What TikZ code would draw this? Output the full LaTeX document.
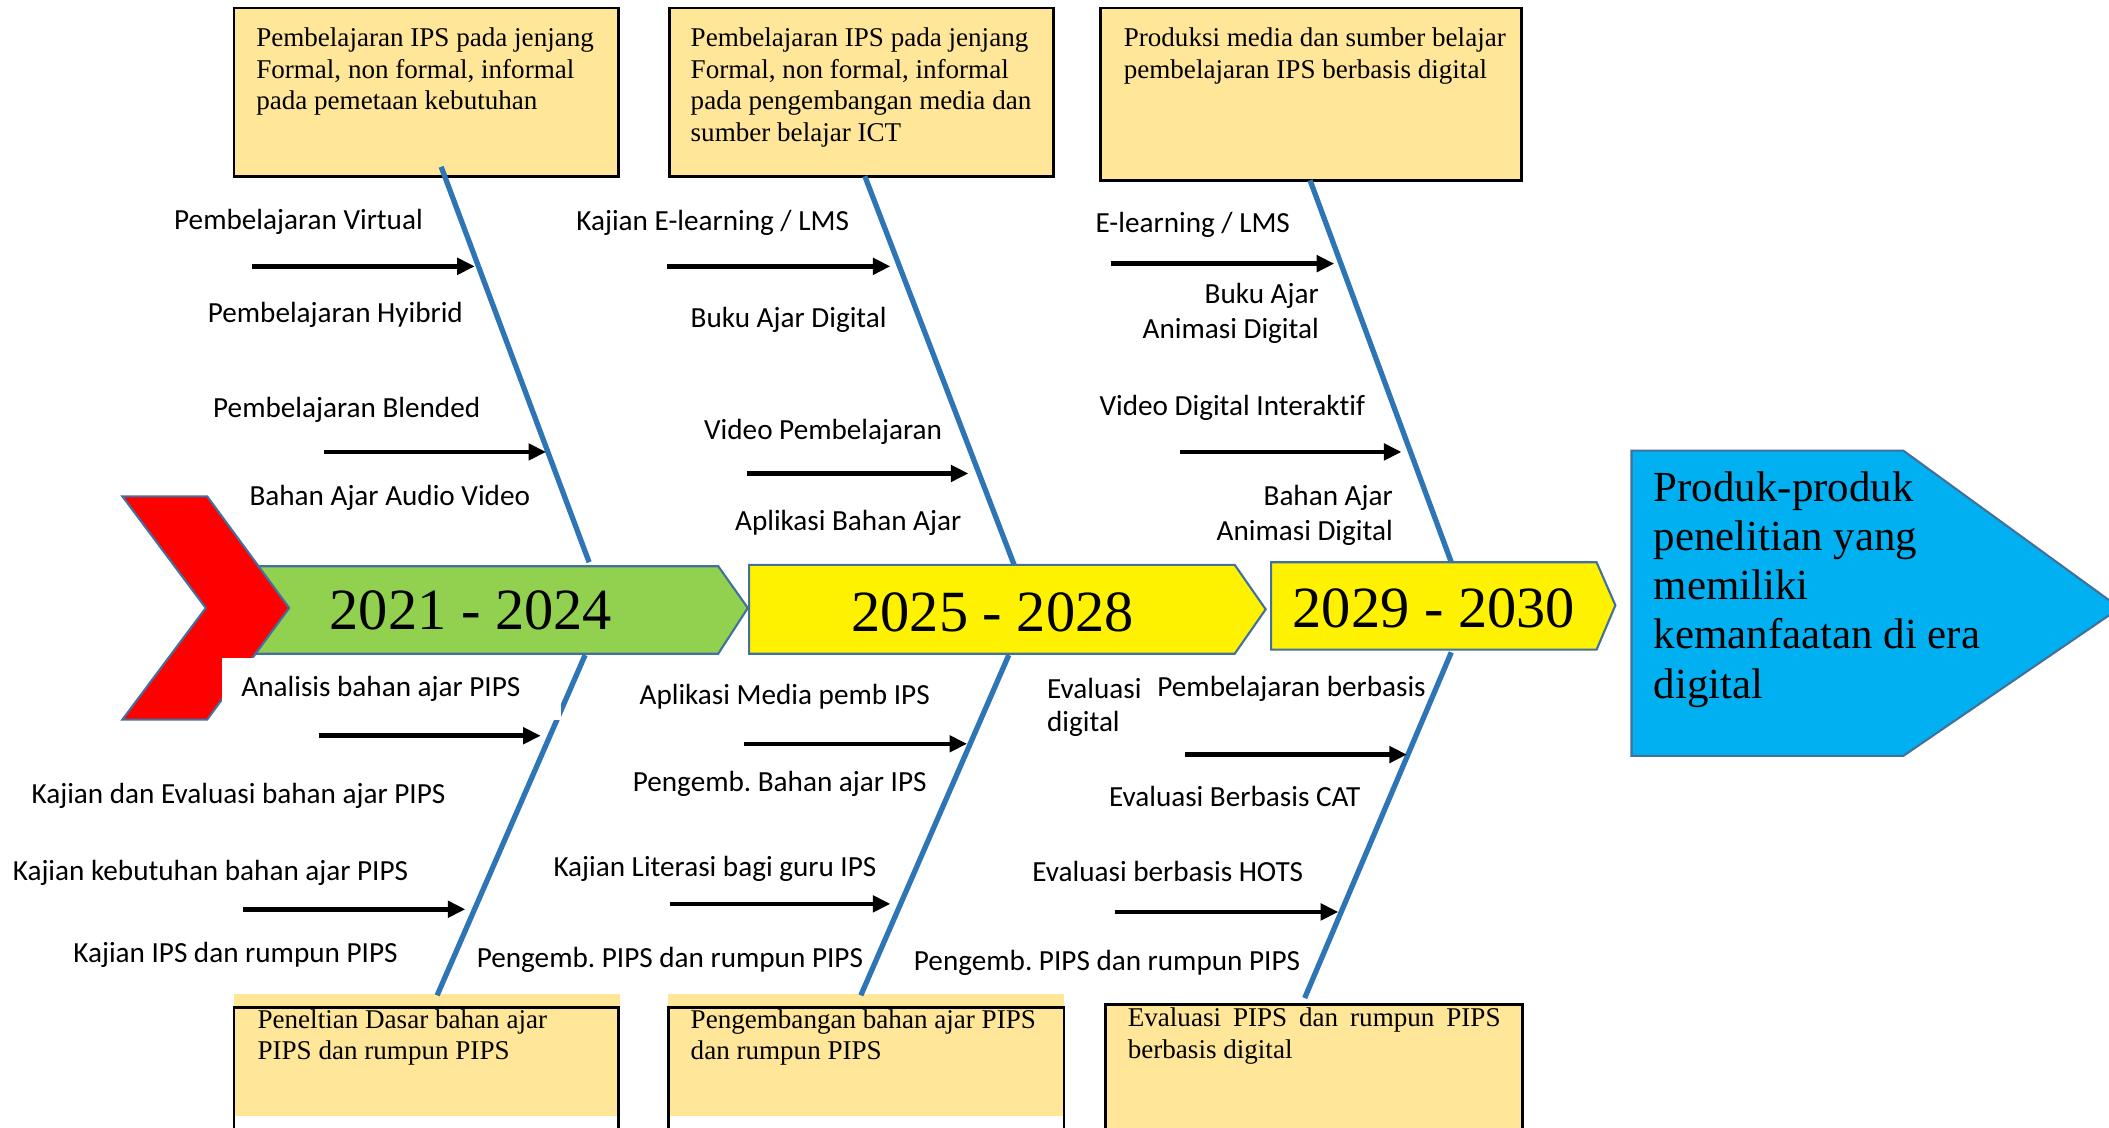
\documentclass[tikz,border=0pt]{standalone}
\usepackage{fontspec}
\setmainfont{Liberation Serif}
\newfontfamily\lblfont[Ligatures={NoCommon}]{Carlito}
\usetikzlibrary{arrows.meta}
\definecolor{boxfill}{HTML}{FFE699}
\definecolor{fishblue}{HTML}{2E75B6}
\definecolor{outl}{HTML}{41719C}
\definecolor{grn}{HTML}{92D050}
\definecolor{cyanb}{HTML}{00B0F0}
\tikzset{
  lbl/.style={font=\lblfont\fontsize{8.3}{10}\selectfont, inner sep=0pt, anchor=west},
  lblr/.style={lbl, anchor=east},
  boxtxt/.style={font=\fontsize{7.7}{9}\selectfont, inner sep=0pt, anchor=north west, align=left},
  yeartxt/.style={font=\fontsize{16.6}{18}\selectfont, inner sep=0pt},
  bigtxt/.style={font=\fontsize{12.2}{14}\selectfont, inner sep=0pt, anchor=north west, align=left},
  bone/.style={fishblue, line width=1.5pt},
  branch/.style={line width=1.3pt, -{Triangle[length=5pt,width=4.6pt]}},
  notebox/.style={draw=black, line width=0.8pt, fill=boxfill},
  chev/.style={draw=outl, line width=0.6pt}
}
\frenchspacing
\begin{document}
\begin{tikzpicture}[x=0.0134503cm,y=-0.0134503cm]
\clip (0,0) rectangle (1568,838);
\fill[white] (0,0) rectangle (1568,838);

% top note boxes
\draw[notebox] (174,6) rectangle (460,131);
\draw[notebox] (498,6) rectangle (783,131);
\draw[notebox] (818,6) rectangle (1131,134);

% bottom note boxes
\fill[boxfill] (174,739) rectangle (461,830);
\draw[line width=0.8pt] (174,845) -- (174,749) -- (460,749) -- (460,845);
\fill[boxfill] (497,739) rectangle (791,830);
\draw[line width=0.8pt] (497,845) -- (497,749) -- (791,749) -- (791,845);
\draw[notebox] (822,747) rectangle (1132,850);

% spine
\draw[chev, fill=grn] (175,421) -- (534,421) -- (556,452) -- (534,486) -- (175,486) -- cycle;
\draw[chev, fill=red] (91,369) -- (154,369) -- (215,452) -- (154,535) -- (91,535) -- (153,452) -- cycle;
\draw[chev, fill=yellow] (557,420) -- (918,420) -- (941,453) -- (918,486) -- (557,486) -- cycle;
\draw[chev, fill=yellow] (945,418) -- (1187,418) -- (1201,450) -- (1187,483) -- (945,483) -- cycle;
\draw[chev, fill=cyanb] (1213,335) -- (1415,335) -- (1576,452) -- (1415,562) -- (1213,562) -- cycle;

% bones
\coordinate (u1a) at (328,124); \coordinate (u1b) at (438,418);
\coordinate (u2a) at (643,131); \coordinate (u2b) at (754,420);
\coordinate (u3a) at (974,134); \coordinate (u3b) at (1079,418);
\coordinate (l1a) at (435,487); \coordinate (l1b) at (325,740);
\coordinate (l2a) at (750,487); \coordinate (l2b) at (640,740);
\coordinate (l3a) at (1079,485); \coordinate (l3b) at (970,742);
\draw[bone] (u1a) -- (u1b);
\draw[bone] (u2a) -- (u2b);
\draw[bone] (u3a) -- (u3b);
\draw[bone] (l1a) -- (l1b);
\draw[bone] (l2a) -- (l2b);
\draw[bone] (l3a) -- (l3b);

% white label background covering part of red chevron
\fill[white] (165,489) rectangle (417,535);

% branch arrows
\coordinate (a1s) at (187,198); \coordinate (a1e) at (353,198);
\coordinate (a2s) at (241,336); \coordinate (a2e) at (406,336);
\coordinate (a3s) at (496,198); \coordinate (a3e) at (662,198);
\coordinate (a4s) at (555,352); \coordinate (a4e) at (720,352);
\coordinate (a5s) at (826,196); \coordinate (a5e) at (992,196);
\coordinate (a6s) at (877,336); \coordinate (a6e) at (1042,336);
\coordinate (a7s) at (237,547); \coordinate (a7e) at (402,547);
\coordinate (a8s) at (181,676); \coordinate (a8e) at (346,676);
\coordinate (a9s) at (553,553); \coordinate (a9e) at (719,553);
\coordinate (a10s) at (498,672); \coordinate (a10e) at (662,672);
\coordinate (a11s) at (881,561); \coordinate (a11e) at (1046,561);
\coordinate (a12s) at (829,678); \coordinate (a12e) at (995,678);
\foreach \i in {1,...,12} { \draw[branch] (a\i s) -- (a\i e); }

% box texts
\node[boxtxt] (t1) at (190,20) {Pembelajaran IPS pada jenjang\\Formal, non formal, informal\\pada pemetaan kebutuhan};
\node[boxtxt] (t2) at (513,20) {Pembelajaran IPS pada jenjang\\Formal, non formal, informal\\pada pengembangan media dan\\sumber belajar ICT};
\node[boxtxt] (t3) at (835,20) {Produksi media dan sumber belajar\\pembelajaran IPS berbasis digital};
\node[boxtxt] (b1) at (191,750) {Peneltian Dasar bahan ajar\\PIPS dan rumpun PIPS};
\node[boxtxt] (b2) at (513,750) {Pengembangan bahan ajar PIPS\\dan rumpun PIPS};
\node[boxtxt] (b3) at (838,749) {\makebox[106pt][s]{Evaluasi PIPS dan rumpun PIPS}\\berbasis digital};

% years
\node[yeartxt] (y1) at (350,454) {2021 - 2024};
\node[yeartxt] (y2) at (738,455) {2025 - 2028};
\node[yeartxt] (y3) at (1066,452) {2029 - 2030};

% goal
\node[bigtxt] (goal) at (1229,350) {Produk-produk\\penelitian yang\\memiliki\\kemanfaatan di era\\digital};

% labels upper
\node[lbl] (p1) at (129,165) {Pembelajaran Virtual};
\node[lbl] (p2) at (154,234) {Pembelajaran Hyibrid};
\node[lbl] (p3) at (158,305) {Pembelajaran Blended};
\node[lbl] (p4) at (185,370) {Bahan Ajar Audio Video};
\node[lbl] (p5) at (428,166) {Kajian E-learning / LMS};
\node[lbl] (p6) at (513,238) {Buku Ajar Digital};
\node[lbl] (p7) at (523,321) {Video Pembelajaran};
\node[lbl] (p8) at (546,389) {Aplikasi Bahan Ajar};
\node[lbl] (p9) at (814,167) {E-learning / LMS};
\node[lblr] (p10) at (981,220) {Buku Ajar};
\node[lblr] (p11) at (981,246) {Animasi Digital};
\node[lbl] (p12) at (817,303) {Video Digital Interaktif};
\node[lblr] (p13) at (1036,370) {Bahan Ajar};
\node[lblr] (p14) at (1036,396) {Animasi Digital};

% labels lower
\node[lbl] (q1) at (179,512) {Analisis bahan ajar PIPS};
\node[lbl] (q2) at (23,592) {Kajian dan Evaluasi bahan ajar PIPS};
\node[lbl] (q3) at (9,649) {Kajian kebutuhan bahan ajar PIPS};
\node[lbl] (q4) at (54,710) {Kajian IPS dan rumpun PIPS};
\node[lbl] (q5) at (475,518) {Aplikasi Media pemb IPS};
\node[lbl] (q6) at (470,583) {Pengemb. Bahan ajar IPS};
\node[lbl] (q7) at (411,646) {Kajian Literasi bagi guru IPS};
\node[lbl] (q8) at (354,714) {Pengemb. PIPS dan rumpun PIPS};
\node[lbl] (q9) at (778,512) {Evaluasi};
\node[lbl] (q10) at (860,512) {Pembelajaran berbasis};
\node[lbl] (q11) at (778,538) {digital};
\node[lbl] (q12) at (824,592) {Evaluasi Berbasis CAT};
\node[lbl] (q13) at (767,648) {Evaluasi berbasis HOTS};
\node[lbl] (q14) at (679,716) {Pengemb. PIPS dan rumpun PIPS};
\end{tikzpicture}
\end{document}
